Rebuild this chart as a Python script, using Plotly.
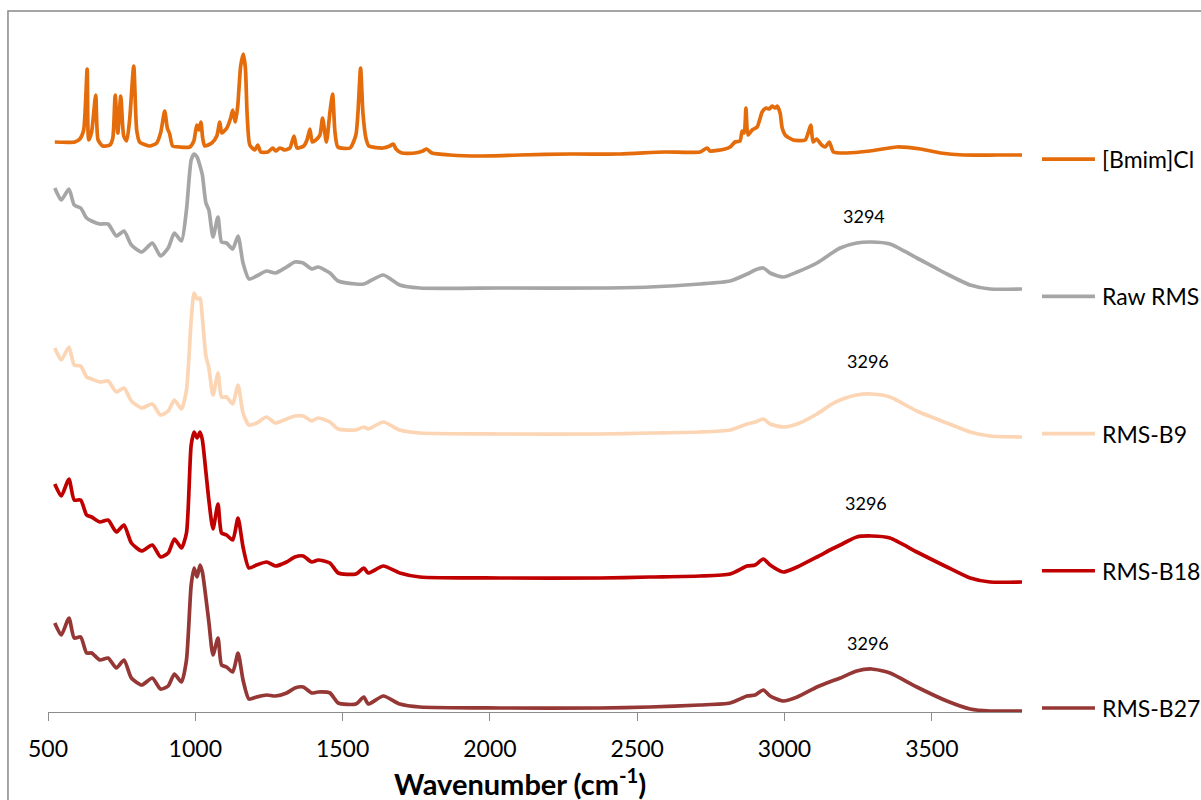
import plotly.graph_objects as go

# ---------------------------------------------------------------------------
# FTIR spectra (stacked, arbitrary absorbance units)
# ---------------------------------------------------------------------------

# wavenumber grid (cm^-1) for the rice-straw (RMS) spectra
wn_bio = [523, 545, 571, 589, 611, 631, 648, 676, 704, 732,
          758, 783, 818, 854, 882, 908, 929, 953, 970, 986,
          996, 1006, 1016, 1024, 1036, 1046, 1060, 1077, 1089, 1106,
          1127, 1145, 1162, 1182, 1208, 1242, 1272, 1310, 1338, 1366,
          1395, 1417, 1457, 1485, 1545, 1572, 1587, 1638, 1694, 1762,
          2034, 2374, 2543, 2713, 2815, 2873, 2900, 2928, 2951, 2996,
          3043, 3110, 3161, 3189, 3245, 3296, 3358, 3449, 3551, 3630,
          3698, 3806]

# raw straw spectrum sampled at the same points (O-H maximum at 3294)
wn_raw = [523, 545, 571, 589, 611, 631, 648, 676, 704, 732,
          758, 783, 818, 854, 882, 908, 929, 953, 970, 986,
          996, 1006, 1016, 1024, 1036, 1046, 1060, 1077, 1089, 1106,
          1127, 1145, 1162, 1182, 1208, 1242, 1272, 1310, 1338, 1366,
          1395, 1417, 1457, 1485, 1545, 1572, 1587, 1638, 1694, 1762,
          2034, 2374, 2543, 2713, 2815, 2873, 2900, 2928, 2951, 2996,
          3043, 3110, 3161, 3189, 3245, 3294, 3358, 3449, 3551, 3630,
          3698, 3806]

abs_raw = [5.24, 5.12, 5.23, 5.07, 5.04, 4.94, 4.91, 4.88, 4.88, 4.76,
           4.81, 4.67, 4.60, 4.69, 4.56, 4.64, 4.79, 4.71, 5.02, 5.52,
           5.58, 5.55, 5.46, 5.37, 5.09, 5.02, 4.75, 4.95, 4.70, 4.69,
           4.63, 4.76, 4.49, 4.33, 4.36, 4.41, 4.39, 4.45, 4.50, 4.49,
           4.43, 4.45, 4.39, 4.31, 4.28, 4.28, 4.30, 4.37, 4.27, 4.24,
           4.24, 4.24, 4.25, 4.28, 4.31, 4.38, 4.42, 4.44, 4.39, 4.35,
           4.40, 4.49, 4.59, 4.64, 4.69, 4.70, 4.68, 4.54, 4.38, 4.27,
           4.23, 4.23]

abs_b9 = [3.64, 3.52, 3.65, 3.47, 3.46, 3.35, 3.33, 3.30, 3.31, 3.20,
          3.24, 3.11, 3.04, 3.08, 2.97, 3.01, 3.12, 3.03, 3.22, 3.92,
          4.19, 4.13, 4.14, 3.94, 3.56, 3.44, 3.17, 3.39, 3.15, 3.15,
          3.08, 3.27, 2.99, 2.87, 2.89, 2.95, 2.89, 2.93, 2.96, 2.96,
          2.91, 2.94, 2.90, 2.83, 2.82, 2.85, 2.83, 2.90, 2.82, 2.79,
          2.78, 2.78, 2.79, 2.80, 2.82, 2.88, 2.90, 2.93, 2.88, 2.85,
          2.88, 2.98, 3.08, 3.12, 3.17, 3.18, 3.15, 3.01, 2.89, 2.80,
          2.76, 2.75]

abs_b18 = [2.28, 2.16, 2.33, 2.12, 2.12, 1.97, 1.95, 1.90, 1.92, 1.80,
           1.87, 1.69, 1.61, 1.67, 1.55, 1.59, 1.73, 1.64, 1.79, 2.67,
           2.80, 2.74, 2.80, 2.72, 2.40, 2.12, 1.83, 2.08, 1.79, 1.77,
           1.72, 1.94, 1.65, 1.44, 1.47, 1.50, 1.46, 1.50, 1.55, 1.56,
           1.50, 1.52, 1.49, 1.39, 1.38, 1.44, 1.39, 1.46, 1.39, 1.35,
           1.34, 1.34, 1.35, 1.36, 1.38, 1.46, 1.47, 1.53, 1.47, 1.40,
           1.45, 1.55, 1.63, 1.67, 1.75, 1.76, 1.74, 1.60, 1.45, 1.34,
           1.30, 1.30]

abs_b27 = [0.89, 0.77, 0.94, 0.74, 0.75, 0.59, 0.59, 0.52, 0.54, 0.44,
           0.52, 0.34, 0.27, 0.34, 0.23, 0.26, 0.38, 0.30, 0.52, 1.27,
           1.44, 1.35, 1.47, 1.40, 1.14, 0.90, 0.57, 0.74, 0.47, 0.45,
           0.40, 0.59, 0.32, 0.13, 0.15, 0.17, 0.16, 0.19, 0.24, 0.25,
           0.19, 0.20, 0.19, 0.09, 0.08, 0.15, 0.08, 0.16, 0.08, 0.05,
           0.04, 0.04, 0.05, 0.07, 0.09, 0.16, 0.17, 0.22, 0.16, 0.11,
           0.15, 0.25, 0.31, 0.34, 0.41, 0.43, 0.39, 0.25, 0.11, 0.03,
           0.01, 0.01]

# ionic liquid [Bmim]Cl
wn_bmim = [523, 591, 608, 621, 633, 638, 648, 662, 670, 686,
           710, 720, 728, 737, 747, 757, 767, 777, 791, 801,
           811, 845, 869, 883, 896, 905, 913, 923, 947, 981,
           995, 1005, 1012, 1019, 1025, 1032, 1056, 1073, 1083, 1090,
           1107, 1120, 1127, 1136, 1144, 1154, 1163, 1170, 1176, 1185,
           1202, 1212, 1222, 1246, 1263, 1273, 1287, 1304, 1321, 1335,
           1345, 1368, 1379, 1389, 1397, 1409, 1423, 1432, 1445, 1457,
           1466, 1474, 1484, 1525, 1545, 1552, 1561, 1569, 1579, 1589,
           1637, 1660, 1672, 1681, 1701, 1746, 1772, 1785, 1803, 1864,
           1966, 2102, 2272, 2442, 2594, 2713, 2737, 2747, 2798, 2815,
           2832, 2849, 2856, 2863, 2869, 2876, 2890, 2907, 2924, 2937,
           2948, 2958, 2968, 2975, 2985, 2992, 3002, 3029, 3070, 3080,
           3089, 3097, 3109, 3126, 3138, 3152, 3166, 3211, 3290, 3381,
           3462, 3530, 3608, 3721, 3806]

abs_bmim = [5.70, 5.70, 5.73, 5.82, 6.43, 5.72, 5.80, 6.17, 5.72, 5.66,
            5.67, 5.74, 6.17, 5.79, 6.16, 5.76, 5.71, 5.92, 6.46, 5.82,
            5.70, 5.66, 5.69, 5.80, 6.01, 5.84, 5.78, 5.66, 5.65, 5.65,
            5.71, 5.87, 5.82, 5.90, 5.74, 5.66, 5.69, 5.76, 5.90, 5.79,
            5.84, 5.94, 6.02, 5.90, 6.06, 6.46, 6.58, 6.44, 5.97, 5.67,
            5.62, 5.67, 5.60, 5.60, 5.64, 5.61, 5.64, 5.62, 5.64, 5.76,
            5.64, 5.66, 5.72, 5.83, 5.70, 5.72, 5.77, 5.94, 5.70, 6.00,
            6.18, 5.80, 5.65, 5.64, 5.77, 5.99, 6.44, 5.99, 5.74, 5.66,
            5.64, 5.66, 5.68, 5.63, 5.59, 5.59, 5.61, 5.63, 5.59, 5.57,
            5.56, 5.57, 5.58, 5.58, 5.60, 5.60, 5.64, 5.61, 5.63, 5.65,
            5.70, 5.71, 5.81, 5.79, 6.04, 5.77, 5.82, 5.85, 6.00, 6.04,
            6.03, 6.06, 6.04, 6.06, 5.99, 5.84, 5.77, 5.72, 5.72, 5.79,
            5.87, 5.70, 5.73, 5.67, 5.65, 5.70, 5.60, 5.59, 5.61, 5.65,
            5.63, 5.59, 5.57, 5.57, 5.57]

series_names = ["[Bmim]Cl", "Raw RMS", "RMS-B9", "RMS-B18", "RMS-B27"]
series_x = [wn_bmim, wn_raw, wn_bio, wn_bio, wn_bio]
series_y = [abs_bmim, abs_raw, abs_b9, abs_b18, abs_b27]
series_colors = ["#E46C0A", "#A6A6A6", "#FCD5B5", "#C00000", "#953735"]

# O-H stretching maxima that get a label
peak_series = ["Raw RMS", "RMS-B9", "RMS-B18", "RMS-B27"]
peak_wn = [3294, 3296, 3296, 3296]

x_ticks = [500, 1000, 1500, 2000, 2500, 3000, 3500]

FONT = "Lato, 'Open Sans', sans-serif"
AXIS_GREY = "#8C8C8C"

fig = go.Figure()
for name, xs, ys, col in zip(series_names, series_x, series_y, series_colors):
    fig.add_trace(go.Scatter(
        x=xs, y=ys, mode="lines", name=name,
        line=dict(color=col, width=3.7, shape="spline", smoothing=0.6),
        showlegend=False, hoverinfo="x+y+name",
    ))

# peak labels above the broad O-H band
label_shift = {"Raw RMS": (-7, 26), "RMS-B9": (-4, 33),
               "RMS-B18": (-6, 33), "RMS-B27": (-4, 26)}
for name, pk in zip(peak_series, peak_wn):
    i = series_names.index(name)
    xs, ys = series_x[i], series_y[i]
    yv = ys[xs.index(pk)]
    dx, dy = label_shift[name]
    fig.add_annotation(x=pk, y=yv, text=str(pk), showarrow=False,
                       xshift=dx, yshift=dy, yanchor="middle",
                       font=dict(family=FONT, size=18, color="#000000"))

# legend drawn to the right of the plot area, one entry per spectrum
legend_top = 0.799
legend_step = 0.1983
for k, (name, col) in enumerate(zip(series_names, series_colors)):
    yy = legend_top - k * legend_step
    fig.add_shape(type="line", xref="paper", yref="paper",
                  x0=1.0205, x1=1.0749, y0=yy, y1=yy,
                  line=dict(color=col, width=3.7))
    fig.add_annotation(xref="paper", yref="paper", x=1.0801, y=yy,
                       text=name, showarrow=False, xanchor="left",
                       yanchor="middle",
                       font=dict(family=FONT, size=23, color="#000000"))

# axis title
fig.add_annotation(xref="paper", yref="paper", x=0.4846, y=-0.101,
                   text="<b>Wavenumber (cm<sup>-1</sup>)</b>", showarrow=False,
                   xanchor="center", yanchor="middle",
                   font=dict(family=FONT, size=29, color="#000000"))

# chart-area border
fig.add_shape(type="rect", xref="paper", yref="paper",
              x0=-0.0411, x1=1.4, y0=-0.4, y1=1.013,
              line=dict(color="#888888", width=1.5), layer="below")

fig.update_layout(
    width=1201, height=800,
    margin=dict(l=48, r=179, t=20, b=88),
    paper_bgcolor="white", plot_bgcolor="white",
    font=dict(family=FONT, color="#000000"),
    xaxis=dict(
        range=[500, 3806], tickvals=x_ticks,
        ticktext=[str(t) for t in x_ticks],
        showline=True, linecolor=AXIS_GREY, linewidth=1.3,
        ticks="outside", ticklen=8, tickcolor=AXIS_GREY, tickwidth=1.3,
        showgrid=False, zeroline=False,
        tickfont=dict(family=FONT, size=23, color="#000000"),
        ticklabelstandoff=8,
    ),
    yaxis=dict(range=[0, 6.92], visible=False, showgrid=False,
               zeroline=False),
)

fig.write_html("out.html")
